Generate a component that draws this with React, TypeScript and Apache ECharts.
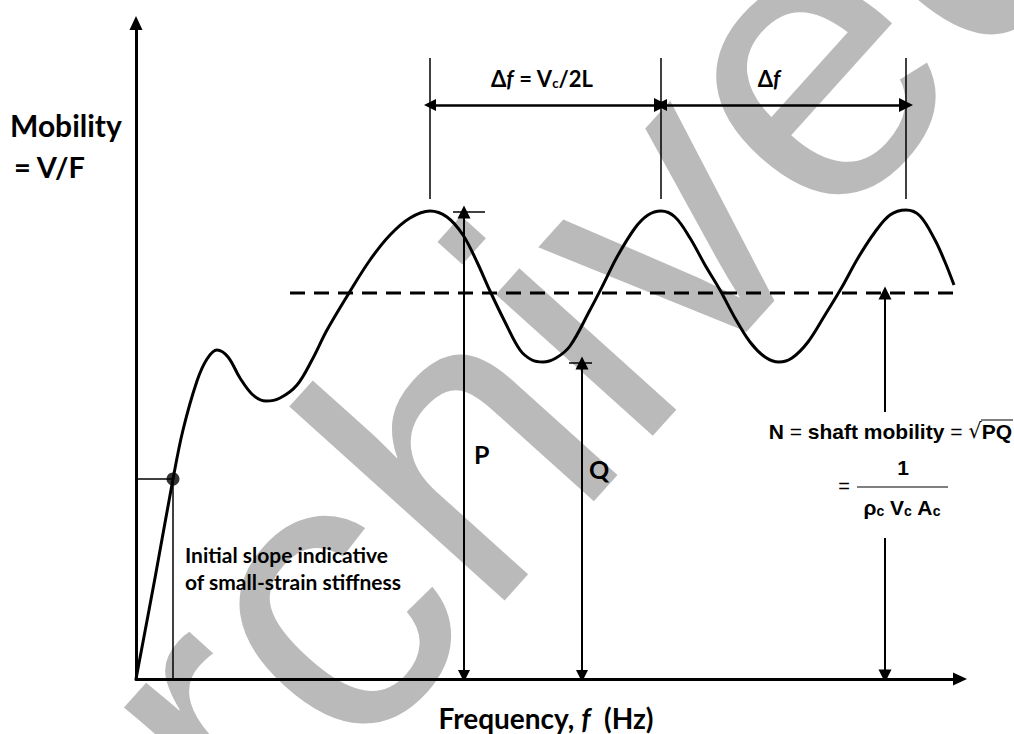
import React, { useEffect, useRef } from 'react';
import * as echarts from 'echarts';

// Mobility curve (frequency units, mobility units)
const curveFreq = [0, 19, 37, 47, 61, 71, 81, 92, 104, 117, 130, 144, 161, 176, 191, 213, 234, 254, 274, 294, 311, 327, 341, 354, 369, 384, 396, 407, 420, 434, 454, 467, 481, 499, 512, 525, 539, 554, 569, 584, 599, 614, 629, 643, 656, 672, 689, 706, 722, 739, 754, 770, 784, 799, 809, 818];
const curveMob = [0, 101, 200, 249, 298, 320, 329, 322, 301, 284, 278, 281, 294, 319, 349, 386, 419, 444, 461, 468, 462, 444, 417, 388, 357, 329, 319, 317, 321, 333, 369, 394, 422, 451, 464, 468, 462, 441, 414, 389, 361, 337, 322, 317, 321, 337, 364, 392, 421, 447, 464, 469, 463, 439, 417, 394];

const peakFreqs = [294, 525, 770];
const dimLow = 480;
const dimHigh = 621;
const dimArrowLevel = 574;
const freqP = 328;
const levelP = 467;
const freqQ = 446;
const levelQ = 316;
const freqN = 749;
const levelN = 386;
const nGapLow = 141;
const nGapHigh = 267;
const slopePoint = [37, 200];
const dashedRange = [154, 821];
const xMax = 824;
const yMax = 656;

export default function App() {
  const ref = useRef<HTMLDivElement>(null);
  useEffect(() => {
    const chart = echarts.init(ref.current as HTMLDivElement, null, { renderer: 'svg' });
    const curve = curveFreq.map((f, i) => [f, curveMob[i]]);
    const black = '#000';
    const lato = 'Lato';
    const arial = 'Liberation Sans';
    const arrowSize = [12, 13];
    const left = { textAlign: 'left', textVerticalAlign: 'middle', align: 'left', verticalAlign: 'middle' };
    const center = { textAlign: 'center', textVerticalAlign: 'middle', align: 'center', verticalAlign: 'middle' };

    const thinLines = [
      { coords: [[0, slopePoint[1]], slopePoint] },
      { coords: [slopePoint, [slopePoint[0], 0]] },
      ...peakFreqs.map((f) => ({ coords: [[f, dimLow], [f, dimHigh]] })),
      { coords: [[freqP - 11, levelP], [freqP + 21, levelP]] },
      { coords: [[freqQ - 13, levelQ], [freqQ + 10, levelQ]] },
    ];

    const option: any = {
      animation: false,
      backgroundColor: '#fff',
      grid: { left: 136, top: 23, width: xMax, height: yMax },
      xAxis: {
        type: 'value', min: 0, max: xMax,
        axisLine: { show: true, lineStyle: { color: black, width: 3 }, symbol: ['none', 'triangle'], symbolSize: [13, 14] },
        axisTick: { show: false }, axisLabel: { show: false }, splitLine: { show: false },
      },
      yAxis: {
        type: 'value', min: 0, max: yMax,
        axisLine: { show: true, lineStyle: { color: black, width: 3 }, symbol: ['none', 'triangle'], symbolSize: [13, 14] },
        axisTick: { show: false }, axisLabel: { show: false }, splitLine: { show: false },
      },
      series: [
        {
          type: 'line', data: curve, smooth: 0.35, symbol: 'none',
          lineStyle: { color: black, width: 3 }, z: 5,
        },
        {
          type: 'line', data: [[dashedRange[0], levelN], [dashedRange[1], levelN]], symbol: 'none',
          lineStyle: { color: black, width: 3, type: [15, 9] }, z: 4,
        },
        {
          type: 'scatter', data: [slopePoint], symbol: 'circle', symbolSize: 13,
          itemStyle: { color: black }, z: 6,
        },
        {
          type: 'lines', coordinateSystem: 'cartesian2d', data: thinLines,
          symbol: ['none', 'none'], lineStyle: { color: black, width: 1.5, opacity: 1 }, z: 3,
        },
        {
          type: 'lines', coordinateSystem: 'cartesian2d',
          data: [
            { coords: [[freqP, 3], [freqP, levelP]] },
            { coords: [[freqQ, 3], [freqQ, levelQ]] },
          ],
          symbol: ['triangle', 'triangle'], symbolSize: arrowSize,
          lineStyle: { color: black, width: 2, opacity: 1 }, z: 3,
        },
        {
          type: 'lines', coordinateSystem: 'cartesian2d',
          data: [
            { coords: [[peakFreqs[0], dimArrowLevel], [peakFreqs[1], dimArrowLevel]] },
            { coords: [[peakFreqs[1], dimArrowLevel], [peakFreqs[2], dimArrowLevel]] },
          ],
          symbol: ['triangle', 'triangle'], symbolSize: [12, 14],
          lineStyle: { color: black, width: 2.5, opacity: 1 }, z: 3,
        },
        {
          type: 'lines', coordinateSystem: 'cartesian2d',
          data: [
            { coords: [[freqN, nGapHigh], [freqN, levelN]] },
            { coords: [[freqN, nGapLow], [freqN, 3]] },
          ],
          symbol: ['none', 'triangle'], symbolSize: arrowSize,
          lineStyle: { color: black, width: 2, opacity: 1 }, z: 3,
        },
      ],
      graphic: [
        { type: 'text', x: 10, y: 125, style: { text: 'Mobility', font: `bold 30px ${lato}`, fill: black, ...left } },
        { type: 'text', x: 14, y: 166, style: { text: '= V/F', font: `bold 29px ${lato}`, fill: black, ...left } },
        {
          type: 'text', x: 546, y: 718,
          style: {
            text: '{a|Frequency, }{i|f}{a|  (Hz)}', ...center,
            rich: {
              a: { fontFamily: lato, fontWeight: 'bold', fontSize: 28, lineHeight: 28, color: black },
              i: { fontFamily: lato, fontWeight: 'bold', fontStyle: 'italic', fontSize: 28, lineHeight: 28, color: black },
            },
          },
        },
        {
          type: 'text', x: 542, y: 78,
          style: {
            text: '{a|Δ}{i|f}{a| = V}{s|c}{a|/2L}', ...center,
            rich: {
              a: { fontFamily: lato, fontWeight: 'bold', fontSize: 22, color: black, verticalAlign: 'bottom' },
              i: { fontFamily: lato, fontWeight: 'bold', fontStyle: 'italic', fontSize: 22, color: black, verticalAlign: 'bottom' },
              s: { fontFamily: lato, fontWeight: 'bold', fontSize: 13, color: black, verticalAlign: 'bottom' },
            },
          },
        },
        {
          type: 'text', x: 769, y: 78,
          style: {
            text: '{a|Δ}{i|f}', ...center,
            rich: {
              a: { fontFamily: lato, fontWeight: 'bold', fontSize: 22, color: black },
              i: { fontFamily: lato, fontWeight: 'bold', fontStyle: 'italic', fontSize: 22, color: black },
            },
          },
        },
        { type: 'text', x: 474, y: 454, style: { text: 'P', font: `bold 25px ${lato}`, fill: black, ...left } },
        { type: 'text', x: 589, y: 469, style: { text: 'Q', font: `bold 25px ${lato}`, fill: black, ...left } },
        { type: 'text', x: 185, y: 554, style: { text: 'Initial slope indicative', font: `bold 21px ${lato}`, fill: black, ...left } },
        { type: 'text', x: 185, y: 581, style: { text: 'of small-strain stiffness', font: `bold 21px ${lato}`, fill: black, ...left } },
        {
          type: 'text', x: 1012, y: 431,
          style: {
            text: '{b|N}{e| = }{b|shaft mobility}{e| = }{r|√}{b|PQ}', textAlign: 'right', textVerticalAlign: 'middle', align: 'right', verticalAlign: 'middle',
            rich: {
              b: { fontFamily: arial, fontWeight: 'bold', fontSize: 21, color: black },
              e: { fontFamily: arial, fontWeight: 'normal', fontSize: 21, color: black },
              r: { fontFamily: 'DejaVu Sans', fontWeight: 'normal', fontSize: 21, color: black },
            },
          },
        },
        { type: 'line', shape: { x1: 981, y1: 420, x2: 1013, y2: 420 }, style: { stroke: black, lineWidth: 1 } },
        { type: 'text', x: 844, y: 486, style: { text: '=', font: `normal 20px ${arial}`, fill: black, ...center } },
        { type: 'text', x: 903, y: 467, style: { text: '1', font: `bold 21px ${arial}`, fill: black, ...center } },
        { type: 'line', shape: { x1: 857, y1: 487, x2: 948, y2: 487 }, style: { stroke: black, lineWidth: 1.2 } },
        {
          type: 'text', x: 902, y: 507,
          style: {
            text: '{b|ρ}{s|c}{b| V}{s|c}{b| A}{s|c}', ...center,
            rich: {
              b: { fontFamily: arial, fontWeight: 'bold', fontSize: 21, color: black, verticalAlign: 'bottom' },
              s: { fontFamily: arial, fontWeight: 'bold', fontSize: 14, color: black, verticalAlign: 'bottom' },
            },
          },
        },
        {
          type: 'text', x: 160, y: 1075, rotation: 0.838, z: 100, silent: true,
          style: { text: 'archived', font: `normal 400px ${arial}`, fill: 'rgba(0,0,0,0.27)', textAlign: 'left', textVerticalAlign: 'bottom', align: 'left', verticalAlign: 'bottom' },
        },
      ],
    };
    chart.setOption(option);
    return () => chart.dispose();
  }, []);
  return <div ref={ref} style={{ position: 'fixed', left: 0, top: 0, width: 1014, height: 734, background: '#fff' }} />;
}
